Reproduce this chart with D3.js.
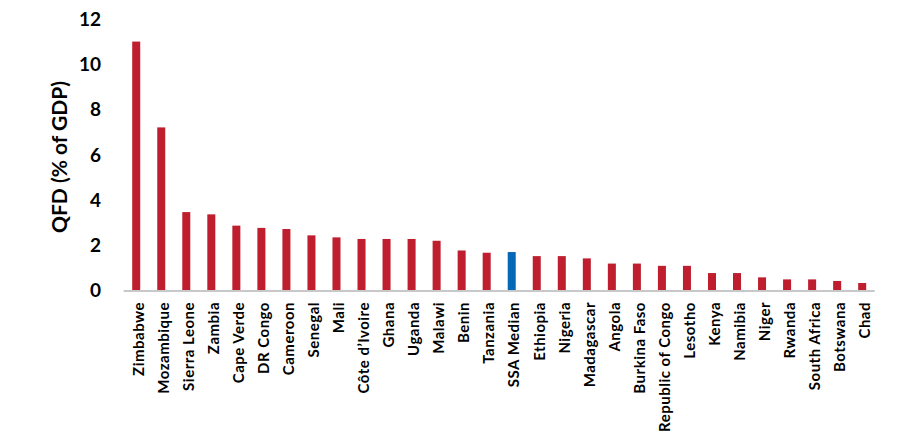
<!DOCTYPE html>
<html><head><meta charset="utf-8">
<script src="https://cdn.jsdelivr.net/npm/d3@7"></script>
<style>body{margin:0;background:#fff;} svg{display:block;}</style>
</head><body>
<svg id="chart" width="904" height="440"></svg>
<script>
const categories = ["Zimbabwe","Mozambique","Sierra Leone","Zambia","Cape Verde","DR Congo","Cameroon","Senegal","Mali","Côte d’Ivoire","Ghana","Uganda","Malawi","Benin","Tanzania","SSA Median","Ethiopia","Nigeria","Madagascar","Angola","Burkina Faso","Republic of Congo","Lesotho","Kenya","Namibia","Niger","Rwanda","South Africa","Botswana","Chad"];
const values = [11.0,7.2,3.45,3.35,2.85,2.75,2.7,2.42,2.33,2.26,2.26,2.26,2.18,1.75,1.65,1.68,1.5,1.5,1.4,1.17,1.17,1.07,1.07,0.75,0.75,0.56,0.47,0.47,0.4,0.31];
const yTicks = [0,2,4,6,8,10,12];
const highlight = "SSA Median";

const svg = d3.select("#chart");
const font = "Lato, 'Open Sans', sans-serif";
const x = d3.scaleBand().domain(categories).range([123.7, 874.7]).paddingInner(0.68).paddingOuter(0.34);
const y = d3.scaleLinear().domain([0, 12]).range([290, 19]);

svg.append("g").selectAll("rect").data(categories).join("rect")
  .attr("x", d => x(d))
  .attr("width", x.bandwidth())
  .attr("y", (d,i) => y(values[i]))
  .attr("height", (d,i) => y(0) - y(values[i]))
  .attr("fill", d => d === highlight ? "#0468B8" : "#BE1E2D");

// baseline
svg.append("line").attr("x1", x.range()[0]).attr("x2", x.range()[1])
  .attr("y1", y(0) + 1).attr("y2", y(0) + 1)
  .attr("stroke", "#C8C8C8").attr("stroke-width", 2);

// y axis labels
const yAxis = d3.axisLeft(y).tickValues(yTicks).tickSize(0).tickPadding(0);
const gy = svg.append("g").attr("transform", "translate(101,0)").call(yAxis);
gy.select(".domain").remove();
gy.selectAll("text").attr("font-family", font).attr("font-weight", "bold")
  .attr("font-size", 19).attr("fill", "#000").attr("dy", "0.35em");

// x labels
const xAxis = d3.axisBottom(x).tickSize(0).tickPadding(0);
const gx = svg.append("g").attr("transform", "translate(0,302)").call(xAxis);
gx.select(".domain").remove();
gx.selectAll("text")
  .attr("font-family", font).attr("font-weight", "bold").attr("font-size", 15).attr("fill", "#000")
  .attr("letter-spacing", "0.5px")
  .attr("text-anchor", "end")
  .attr("transform", "rotate(-90)")
  .attr("x", 0).attr("y", 2.5).attr("dy", "0.35em");

// y title
svg.append("text").attr("transform", "translate(60,157) rotate(-90)")
  .attr("text-anchor", "middle").attr("dy", "0.35em")
  .attr("font-family", font).attr("font-weight", "bold").attr("font-size", 21)
  .text("QFD (% of GDP)");
</script>
</body></html>
